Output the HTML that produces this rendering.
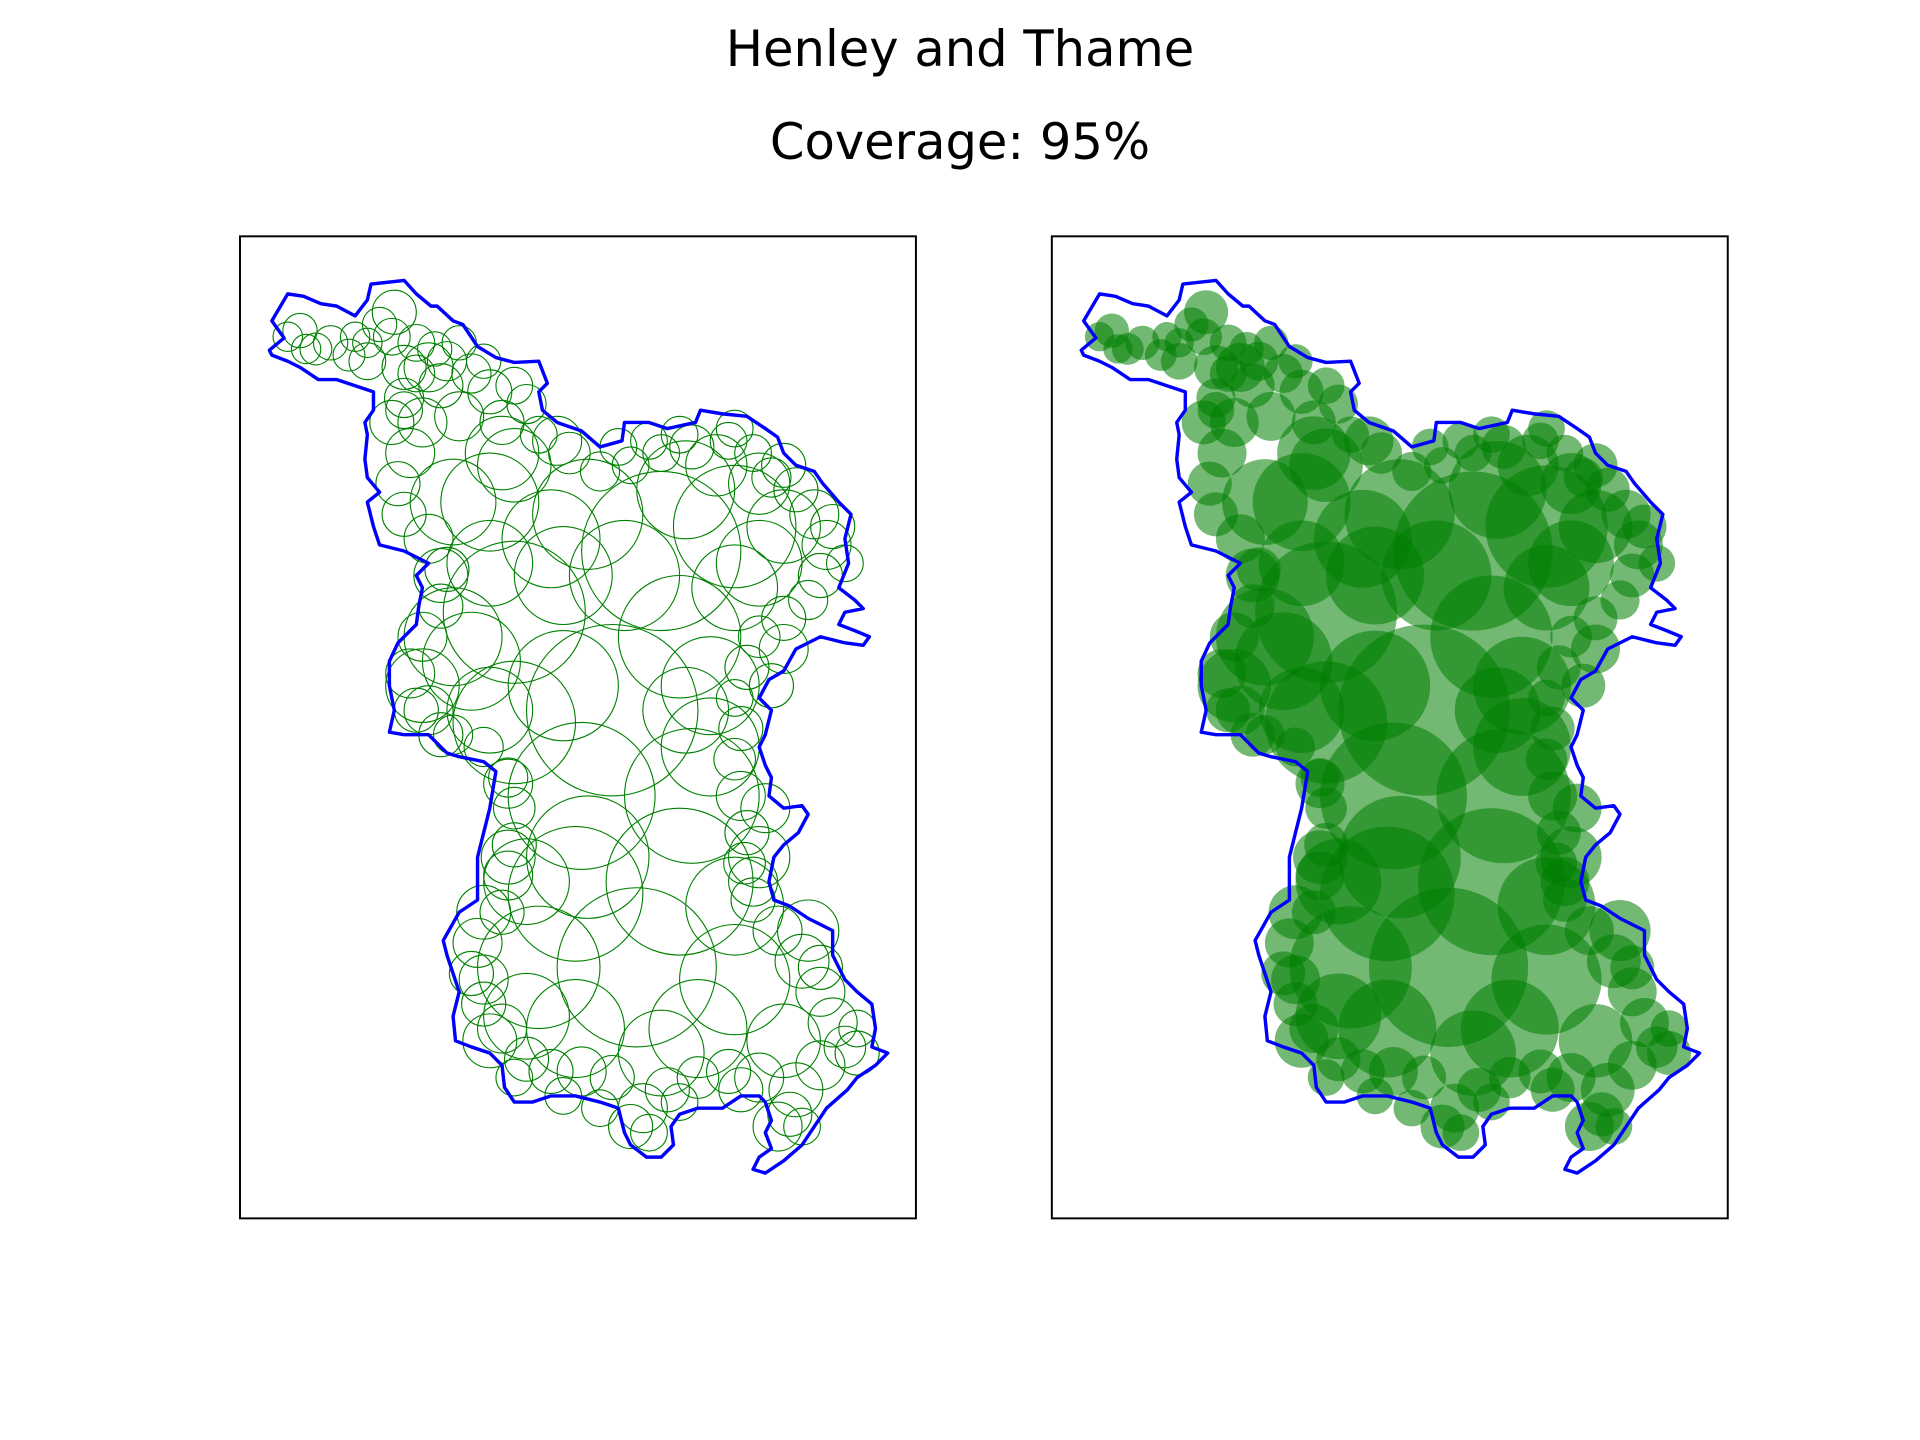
<!DOCTYPE html>
<html><head><meta charset="utf-8"><style>
html,body{margin:0;padding:0;background:#fff}
svg{display:block}
</style></head><body>
<svg id="fig" width="1920" height="1440" viewBox="0 0 1568 1176" xmlns="http://www.w3.org/2000/svg">
<rect width="1568" height="1176" fill="#fff"/>
<text x="784" y="54" text-anchor="middle" font-family="DejaVu Sans, Liberation Sans, sans-serif" font-size="40.5">Henley and Thame</text>
<text x="784" y="130" text-anchor="middle" font-family="DejaVu Sans, Liberation Sans, sans-serif" font-size="40.5">Coverage: 95%</text>
<g id="left"></g>
<g id="right"></g>
<rect x="196" y="193" width="552" height="802" fill="none" stroke="#000" stroke-width="1.6"/>
<rect x="859" y="193" width="552" height="802" fill="none" stroke="#000" stroke-width="1.6"/>
</svg>
<script>
const boundaryX=[222,235,248,262,275,290,300,303,330,340,352,357,370,378,390,405,420,440,447,440,443,455,475,490,508,510,530,545,568,572,590,610,625,635,640,650,665,672,685,695,690,693,685,698,705,690,685,698,710,705,690,670,660,650,640,628,620,630,625,620,625,630,628,640,655,660,652,640,632,628,632,645,660,670,680,680,690,700,712,715,712,725,715,700,692,675,665,655,640,625,615,620,630,625,630,625,620,605,590,570,555,548,550,540,528,515,510,505,490,470,450,435,420,412,410,400,385,372,370,375,370,365,362,375,390,390,395,400,405,395,375,365,350,330,318,322,318,318,325,340,342,345,340,350,330,310,305,300,310,300,298,300,298,305,305,290,275,260,245,235,222,220,232,222];
const boundaryY=[262,240,242,248,250,258,245,232,229,240,250,250,262,265,283,292,296,295,313,320,335,345,352,365,360,345,345,350,345,335,338,340,350,357,370,380,385,395,410,420,440,460,480,490,497,500,510,515,520,527,525,520,525,530,548,555,570,580,600,610,625,635,650,660,658,665,680,690,700,720,735,740,750,755,760,780,800,810,820,840,855,860,870,880,890,905,920,935,948,958,955,945,938,925,915,900,895,895,905,905,910,920,935,945,945,935,925,905,900,895,895,900,900,888,870,860,855,850,830,810,795,780,768,745,735,700,680,660,630,622,618,615,600,600,598,580,560,540,525,510,495,480,470,460,450,445,430,410,402,390,375,355,345,335,320,315,310,310,300,295,290,286,276,262];
const circleX=[245,258,270,285,300,290,322,320,340,355,365,375,340,360,385,400,420,330,320,345,375,410,440,465,490,515,540,565,595,615,630,650,665,675,670,660,640,620,610,600,605,600,605,610,608,615,635,655,670,680,690,670,650,645,620,595,570,545,525,530,500,475,450,430,410,395,385,390,410,415,420,420,415,395,370,350,335,345,360,365,350,330,325,335,330,540,420,555,500,420,475,565,555,470,520,440,600,470,570,480,600,400,420,560,385,600,
300,250,235,310,330,350,395,430,455,410,370,360,345,340,360,415,415,395,395,400,420,460,490,515,555,605,635,655,700,700,670,660,615,620,625,580,460,510,460,580,480,620,640,620,585,505,530,555,600,640,680,690,640,630,450,400,370,400,540,430,640,600,430,560];
const circleY=[270,285,280,290,295,275,255,275,280,285,295,280,305,315,305,320,315,325,345,345,340,345,355,370,385,380,370,365,360,370,390,400,420,445,470,490,505,520,545,570,595,620,650,680,705,735,760,785,810,835,855,870,890,910,880,875,880,890,905,925,880,875,875,865,840,820,795,770,745,715,690,660,635,610,600,580,550,520,495,465,440,420,395,370,335,450,500,520,580,590,650,650,720,730,790,790,800,840,840,420,430,410,380,400,540,480,
280,285,275,265,300,300,295,330,360,370,410,470,560,580,600,640,700,745,800,850,880,895,905,920,900,890,920,920,840,860,790,760,720,700,660,560,470,470,560,610,700,460,430,395,380,365,360,355,350,380,430,460,530,560,440,460,520,580,860,830,850,740,720,580];
const circleR=[14,13,14,13,15,12,18,15,15,14,16,14,15,18,16,18,15,16,18,20,20,18,15,17,16,15,15,18,15,15,16,18,20,20,18,16,18,17,18,15,18,17,20,18,17,18,20,22,20,20,17,20,22,18,20,18,17,18,20,15,18,20,18,18,20,18,18,20,18,20,18,17,16,16,16,20,20,20,18,18,20,18,18,20,15,65,58,50,70,50,60,55,60,55,65,50,45,40,40,45,50,40,30,40,40,35,
12,12,12,14,18,20,14,16,20,30,35,22,30,18,18,20,22,22,20,22,15,15,15,18,15,18,20,15,15,18,18,25,20,25,20,40,40,45,45,40,50,35,30,25,25,15,15,15,15,18,18,15,20,18,40,35,40,35,35,35,30,40,35,35];
const NS="http://www.w3.org/2000/svg";
const OFFSET=663;
const pts=(dx)=>boundaryX.map((x,i)=>(x+dx)+","+boundaryY[i]).join(" ");
function draw(g,dx,filled){
  for(let i=0;i<circleX.length;i++){
    const c=document.createElementNS(NS,"circle");
    c.setAttribute("cx",circleX[i]+dx);c.setAttribute("cy",circleY[i]);c.setAttribute("r",circleR[i]);
    if(filled){c.setAttribute("fill","#008000");c.setAttribute("fill-opacity","0.55");c.setAttribute("stroke","none");}
    else{c.setAttribute("fill","none");c.setAttribute("stroke","#008000");c.setAttribute("stroke-width","0.9");}
    
    
    g.appendChild(c);
  }
  const p=document.createElementNS(NS,"polygon");
  p.setAttribute("points",pts(dx));p.setAttribute("fill","none");p.setAttribute("stroke","#0000ff");p.setAttribute("stroke-width","2.8");p.setAttribute("stroke-linejoin","round");
  
  
  g.appendChild(p);
}
draw(document.getElementById("left"),0,false);
draw(document.getElementById("right"),OFFSET,true);
</script>
</body></html>
